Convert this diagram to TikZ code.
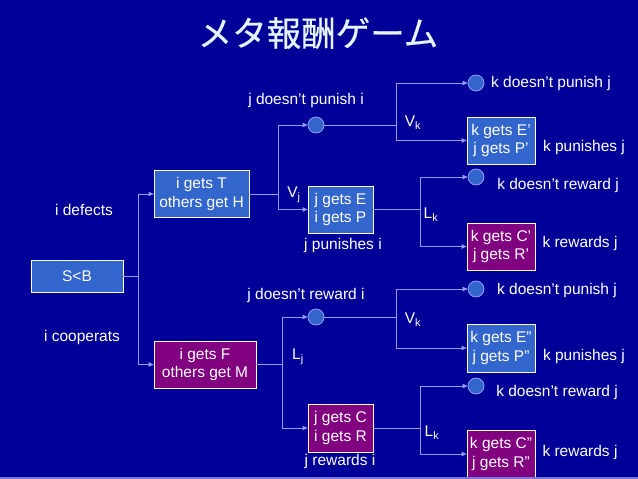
\documentclass[tikz,border=0pt]{standalone}
\usepackage{fontspec}
\setmainfont{Liberation Sans}
\newfontfamily\cjk[FakeBold=0.5]{Noto Sans CJK JP}
\usetikzlibrary{arrows.meta}
\definecolor{bgblue}{HTML}{000099}
\definecolor{boxblue}{HTML}{3366CC}
\definecolor{boxpurple}{HTML}{800080}
\definecolor{linecol}{HTML}{9999FF}
\definecolor{stripe}{HTML}{7777DD}
\definecolor{titlecol}{HTML}{E6F4FF}
\begin{document}
\begin{tikzpicture}[x=1pt,y=-1pt,
  every node/.style={font=\fontsize{15.5}{18.5}\selectfont, text=white, inner sep=0pt},
  bbox/.style={draw=white, line width=0.8pt, fill=boxblue, align=center, minimum height=47pt},
  pbox/.style={bbox, fill=boxpurple},
  dot/.style={circle, draw=linecol, line width=0.8pt, fill=boxblue, minimum size=16pt},
  conn/.style={draw=linecol, line width=0.9pt},
  arr/.style={conn, -{Triangle[length=5pt,width=4.5pt]}}
]
\useasboundingbox (0,0) rectangle (638,479);
\fill[bgblue] (0,0) rectangle (638,479);

\node[text=titlecol] (title) at (318,33) {\cjk\fontsize{34.5}{38}\selectfont メタ報酬ゲーム};

% boxes
\node[bbox, minimum width=92pt, minimum height=32pt] (SB) at (77,276) {S<B};
\node[bbox, minimum width=95pt] (T) at (201.5,194) {i gets T\\others get H};
\node[pbox, minimum width=102pt] (F) at (205,364.5) {i gets F\\others get M};
\node[bbox, minimum width=65pt] (EP) at (340.5,209.5) {j gets E\\i gets P};
\node[pbox, minimum width=65pt, minimum height=48pt] (CR) at (340.5,428) {j gets C\\i gets R};
\node[bbox, minimum width=68pt] (EP1) at (501,140.5) {k gets E’\\j gets P’};
\node[pbox, minimum width=68pt] (CR1) at (501,246.5) {k gets C’\\j gets R’};
\node[bbox, minimum width=68pt, minimum height=48pt] (EP2) at (501,348) {k gets E”\\j gets P”};
\node[pbox, minimum width=68pt, minimum height=48pt] (CR2) at (501,454) {k gets C”\\j gets R”};

% circles
\node[dot] (c1) at (316,125) {};
\node[dot] (c2) at (476,83) {};
\node[dot] (c3) at (476,177) {};
\node[dot] (c4) at (316,317) {};
\node[dot] (c5) at (476,289) {};
\node[dot] (c6) at (476,386) {};

% junctions
\coordinate (j1) at (138,276);
\coordinate (j2) at (278,194);
\coordinate (j3) at (396,125);
\coordinate (j4) at (420,209.5);
\coordinate (j5) at (282,364.5);
\coordinate (j6) at (396,317);
\coordinate (j7) at (420,428);

\draw[conn] (SB.east) -- (j1);
\draw[arr] (j1) |- (T.west);
\draw[arr] (j1) |- (F.west);

\draw[conn] (T.east) -- (j2);
\draw[arr] (j2) |- (c1.west);
\draw[arr] (j2) |- (EP.west);

\draw[conn] (c1.east) -- (j3);
\draw[arr] (j3) |- (c2.west);
\draw[arr] (j3) |- (EP1.west);

\draw[conn] (EP.east) -- (j4);
\draw[arr] (j4) |- (c3.west);
\draw[arr] (j4) |- (CR1.west);

\draw[conn] (F.east) -- (j5);
\draw[arr] (j5) |- (c4.west);
\draw[arr] (j5) |- (CR.west);

\draw[conn] (c4.east) -- (j6);
\draw[arr] (j6) |- (c5.west);
\draw[arr] (j6) |- (EP2.west);

\draw[conn] (CR.east) -- (j7);
\draw[arr] (j7) |- (c6.west);
\draw[arr] (j7) |- (CR2.west);

% labels
\node (l1) at (84,210) {i defects};
\node (l2) at (82,337) {i cooperats};
\node (l3) at (306,100) {j doesn’t punish i};
\node (l4) at (294,195) {V\textsubscript{j}};
\node (l5) at (343,245) {j punishes i};
\node (l6) at (413,123) {V\textsubscript{k}};
\node (l7) at (551,83) {k doesn’t punish j};
\node (l8) at (584,147) {k punishes j};
\node (l9) at (431,215) {L\textsubscript{k}};
\node (l10) at (558,185) {k doesn’t reward j};
\node (l11) at (580,243) {k rewards j};
\node (l12) at (306,295) {j doesn’t reward i};
\node (l13) at (298,357) {L\textsubscript{j}};
\node (l14) at (340,461) {j rewards i};
\node (l15) at (413,320) {V\textsubscript{k}};
\node (l16) at (557,290) {k doesn’t punish j};
\node (l17) at (584,356) {k punishes j};
\node (l18) at (432,433) {L\textsubscript{k}};
\node (l19) at (557,392) {k doesn’t reward j};
\node (l20) at (580,452) {k rewards j};

\fill[stripe] (0,476.5) rectangle (638,479);
\end{tikzpicture}
\end{document}
